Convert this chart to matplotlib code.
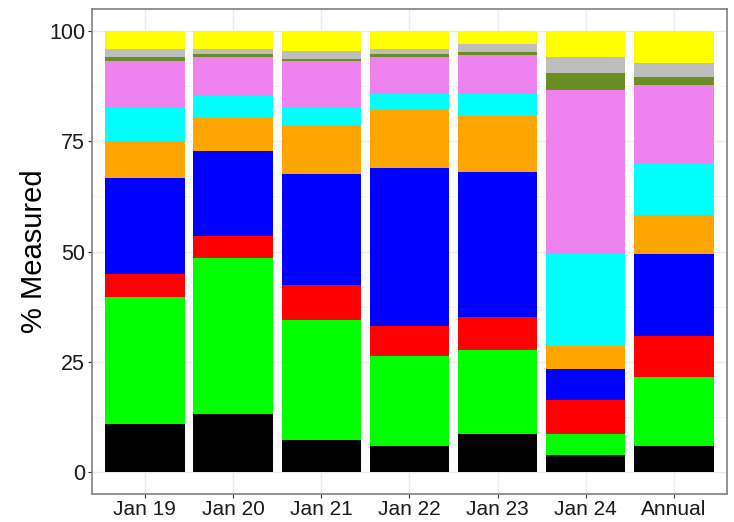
# stacked composition bars, % measured by date

import numpy as np
import matplotlib.pyplot as plt

plt.rcParams['font.family'] = ['Liberation Sans', 'DejaVu Sans']

# categories on the x axis
dates = ["Jan 19", "Jan 20", "Jan 21", "Jan 22", "Jan 23", "Jan 24", "Annual"]

# segment values (% of total), bottom to top
black = [10.8, 13.1, 7.2, 5.8, 8.6, 3.9, 5.8]
green = [28.9, 35.5, 27.3, 20.4, 19.1, 4.7, 15.7]
red = [5.1, 5.0, 8.0, 7.0, 7.4, 7.8, 9.4]
blue = [21.9, 19.1, 25.2, 35.8, 33.0, 7.0, 18.6]
orange = [8.4, 7.5, 10.7, 13.0, 12.6, 5.2, 8.8]
cyan = [7.5, 5.1, 4.2, 3.8, 5.1, 20.9, 11.6]
violet = [10.6, 8.8, 10.6, 8.3, 8.7, 37.2, 17.8]
olive = [1.0, 0.6, 0.5, 0.6, 0.7, 3.9, 1.8]
gray = [1.7, 1.2, 1.8, 1.2, 1.8, 3.6, 3.2]
yellow = [4.1, 4.1, 4.5, 4.1, 3.0, 5.8, 7.3]

series = [black, green, red, blue, orange, cyan, violet, olive, gray, yellow]
colors = ["black", "#00FF00", "#FF0000", "#0000FF", "#FFA500",
          "#00FFFF", "#EE82EE", "#6B8E23", "#BEBEBE", "#FFFF00"]

fig = plt.figure(figsize=(7.34, 5.22), dpi=100)
ax = fig.add_axes([0.1253, 0.0536, 0.865, 0.929])

x = np.arange(len(dates))
bottom = np.zeros(len(dates))
for vals, col in zip(series, colors):
    ax.bar(x, vals, width=0.9, bottom=bottom, color=col, linewidth=0, zorder=3)
    bottom += np.array(vals)

# ggplot-like theme_bw look
ax.set_xlim(-0.6, len(dates) - 0.4)
ax.set_ylim(-5, 105)
ax.set_yticks([0, 25, 50, 75, 100])
ax.set_yticks([12.5, 37.5, 62.5, 87.5], minor=True)
ax.set_xticks(x)
ax.set_xticklabels(dates)
ax.grid(which="major", color="#EBEBEB", linewidth=1.0, zorder=0)
ax.grid(which="minor", axis="y", color="#F2F2F2", linewidth=0.6, zorder=0)
ax.tick_params(which="major", length=3, width=0.8, color="#333333",
               labelsize=15.5, labelcolor="#1A1A1A", pad=2)
ax.tick_params(axis="x", labelsize=15, pad=1.5)
ax.tick_params(which="minor", length=0)
for s in ax.spines.values():
    s.set_color("#7F7F7F")
    s.set_linewidth(1.2)

ax.set_ylabel("% Measured", fontsize=21, color="black")
ax.yaxis.set_label_coords(-0.069, 0.5)

fig.savefig("out.png", dpi=100)
